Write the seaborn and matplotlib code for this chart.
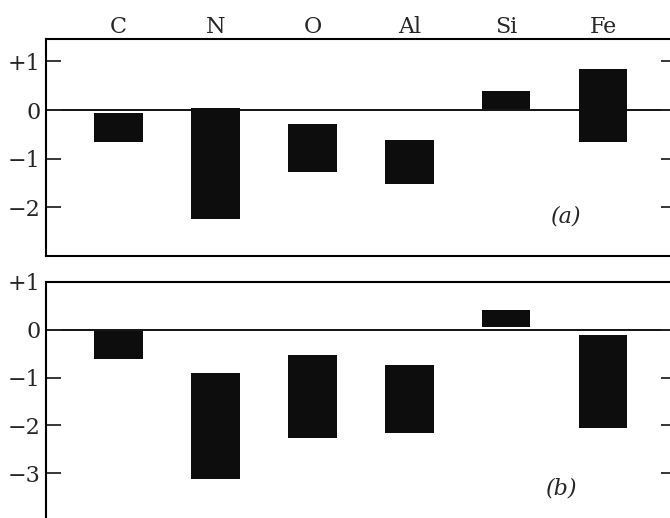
import numpy as np
import pandas as pd
import matplotlib
matplotlib.use("Agg")
import matplotlib.pyplot as plt
import seaborn as sns

elements = ["C", "N", "O", "Al", "Si", "Fe"]
# panel (a): top and bottom of each range
top_a = [-0.06, 0.04, -0.29, -0.62, 0.39, 0.84]
low_a = [-0.65, -2.24, -1.27, -1.52, 0.03, -0.65]
# panel (b)
top_b = [-0.02, -0.91, -0.52, -0.73, 0.42, -0.10]
low_b = [-0.62, -3.13, -2.27, -2.15, 0.05, -2.05]

sns.set_style("white")
plt.rcParams["font.family"] = ["DejaVu Serif"]
plt.rcParams["font.size"] = 16

fig = plt.figure(figsize=(6.7, 5.18), dpi=100)
ax1 = fig.add_axes([0.0687, 0.5058, 0.940, 0.419])
ax2 = fig.add_axes([0.0687, -0.0058, 0.940, 0.4614])


def fmt(v):
    if v > 0:
        return "+%d" % v
    if v < 0:
        return "\u2212%d" % abs(v)
    return "0"


def panel(ax, tops, lows, ylim, ticks, tag, tagpos):
    df = pd.DataFrame({"el": elements, "h": np.array(tops) - np.array(lows)})
    sns.barplot(data=df, x="el", y="h", bottom=lows, color="#0d0d0d",
                width=0.5, saturation=1, ax=ax, edgecolor="none")
    ax.axhline(0, color="black", lw=1.3, zorder=0)
    ax.set_xlim(-0.75, 5.75)
    ax.set_ylim(*ylim)
    ax.set_xlabel("")
    ax.set_ylabel("")
    ax.set_yticks(ticks)
    ax.set_yticklabels([fmt(t) for t in ticks])
    ax.tick_params(axis="y", direction="in", length=11, width=1.3,
                   left=True, right=True, pad=4, labelsize=16)
    for s in ax.spines.values():
        s.set_linewidth(1.5)
        s.set_color("black")
    ax.text(tagpos[0], tagpos[1], tag, fontsize=16, style="italic",
            ha="center", va="center")


panel(ax1, top_a, low_a, (-3.0, 1.46), [1, 0, -1, -2], "(a)", (4.62, -2.18))
panel(ax2, top_b, low_b, (-4.0, 1.0), [1, 0, -1, -2, -3], "(b)", (4.57, -3.31))

ax1.xaxis.tick_top()
ax1.tick_params(axis="x", length=0, pad=1, labelsize=16)
ax2.set_xticks([])

fig.savefig("out.png", dpi=100)
